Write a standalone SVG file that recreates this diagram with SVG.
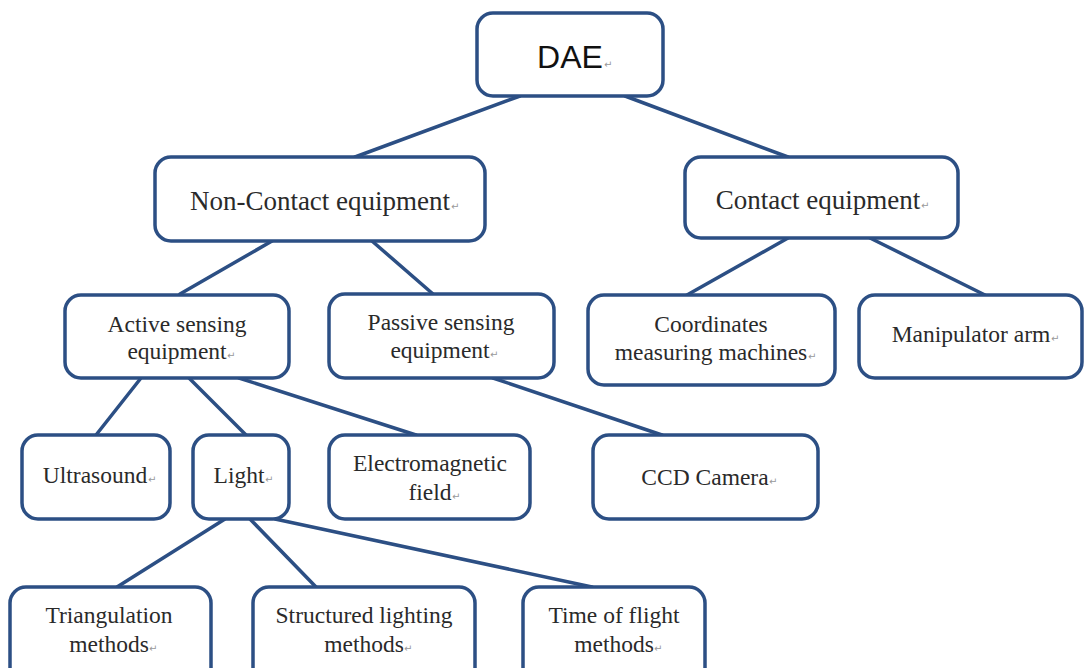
<svg xmlns="http://www.w3.org/2000/svg" width="1085" height="668" viewBox="0 0 1085 668">
<style>
.box{fill:#fff;stroke:#2C4F84;stroke-width:3.5}
.con line{stroke:#2C4F84;stroke-width:3.5;stroke-linecap:round}
.t{font-family:"Liberation Serif","Times New Roman",serif;font-size:23.5px;fill:#2a2a2a;text-anchor:middle}
.t2{font-family:"Liberation Serif","Times New Roman",serif;font-size:27px;fill:#2a2a2a;text-anchor:middle}
.s{font-family:"Liberation Sans",Arial,sans-serif;font-size:32px;fill:#111;text-anchor:middle}
.m{font-family:"DejaVu Sans",sans-serif;font-size:10px;fill:#999}
</style>
<rect width="1085" height="668" fill="#fff"/>
<g id="connectors" class="con">
<line x1="520" y1="96" x2="355" y2="157"/>
<line x1="625" y1="96" x2="788" y2="157"/>
<line x1="272" y1="241" x2="180" y2="294"/>
<line x1="372" y1="241" x2="433" y2="294"/>
<line x1="788" y1="238" x2="687" y2="295"/>
<line x1="870" y1="238" x2="985" y2="295"/>
<line x1="141" y1="378" x2="96" y2="435"/>
<line x1="189" y1="378" x2="246" y2="435"/>
<line x1="239" y1="378" x2="416" y2="435"/>
<line x1="493" y1="378" x2="662" y2="435"/>
<line x1="225" y1="519" x2="117" y2="587"/>
<line x1="250" y1="519" x2="316" y2="587"/>
<line x1="275" y1="519" x2="592" y2="587"/>
</g>
<g id="dae">
<rect class="box" x="477" y="13" width="186" height="83" rx="16"/>
<text class="s" x="570" y="68">DAE</text><text class="m" x="604" y="68">↵</text>
</g>
<g id="noncontact">
<rect class="box" x="155" y="157" width="330" height="84" rx="16"/>
<text class="t2" x="320" y="210">Non-Contact equipment</text><text class="m" x="451" y="210">↵</text>
</g>
<g id="contact">
<rect class="box" x="685" y="157" width="273" height="81" rx="16"/>
<text class="t2" x="818" y="209">Contact equipment</text><text class="m" x="921" y="209">↵</text>
</g>
<g id="active">
<rect class="box" x="65" y="295" width="224" height="83" rx="16"/>
<text class="t" x="177" y="332">Active sensing</text>
<text class="t" x="177" y="359">equipment</text><text class="m" x="227" y="359">↵</text>
</g>
<g id="passive">
<rect class="box" x="329" y="294" width="225" height="84" rx="16"/>
<text class="t" x="441" y="330">Passive sensing</text>
<text class="t" x="440" y="358">equipment</text><text class="m" x="490" y="358">↵</text>
</g>
<g id="cmm">
<rect class="box" x="588" y="295" width="247" height="90" rx="16"/>
<text class="t" x="711" y="332">Coordinates</text>
<text class="t" x="711" y="360">measuring machines</text><text class="m" x="808" y="360">↵</text>
</g>
<g id="manipulator">
<rect class="box" x="859" y="295" width="223" height="83" rx="16"/>
<text class="t" x="971" y="342">Manipulator arm</text><text class="m" x="1051" y="342">↵</text>
</g>
<g id="ultrasound">
<rect class="box" x="22" y="435" width="148" height="84" rx="16"/>
<text class="t" x="95" y="483">Ultrasound</text><text class="m" x="148" y="483">↵</text>
</g>
<g id="light">
<rect class="box" x="193" y="435" width="96" height="84" rx="16"/>
<text class="t" x="239" y="483">Light</text><text class="m" x="265" y="483">↵</text>
</g>
<g id="em">
<rect class="box" x="329" y="435" width="201" height="84" rx="16"/>
<text class="t" x="430" y="471">Electromagnetic</text>
<text class="t" x="430" y="500">field</text><text class="m" x="452" y="500">↵</text>
</g>
<g id="ccd">
<rect class="box" x="593" y="435" width="225" height="84" rx="16"/>
<text class="t" x="705" y="485">CCD Camera</text><text class="m" x="769" y="485">↵</text>
</g>
<g id="triangulation">
<rect class="box" x="10" y="587" width="201" height="100" rx="16"/>
<text class="t" x="109" y="623">Triangulation</text>
<text class="t" x="109" y="652">methods</text><text class="m" x="149" y="652">↵</text>
</g>
<g id="structured">
<rect class="box" x="253" y="587" width="222" height="100" rx="16"/>
<text class="t" x="364" y="623">Structured lighting</text>
<text class="t" x="364" y="652">methods</text><text class="m" x="404" y="652">↵</text>
</g>
<g id="tof">
<rect class="box" x="523" y="587" width="182" height="100" rx="16"/>
<text class="t" x="614" y="623">Time of flight</text>
<text class="t" x="614" y="652">methods</text><text class="m" x="654" y="652">↵</text>
</g>
</svg>
